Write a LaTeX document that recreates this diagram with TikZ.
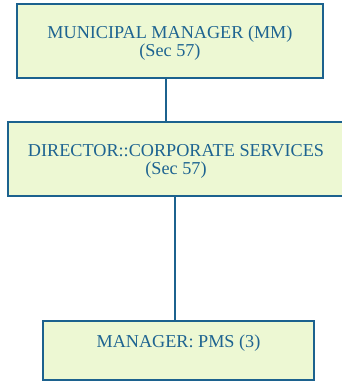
\documentclass[tikz,border=0pt]{standalone}
\usepackage{fontspec}
\setmainfont{Liberation Serif}
\usepackage{xcolor}
\usetikzlibrary{positioning}

\definecolor{boxfill}{RGB}{237,248,211}
\definecolor{boxline}{RGB}{28,98,142}
\definecolor{boxtext}{RGB}{30,100,145}

\tikzset{
  postbox/.style={draw=boxline, line width=1.4pt, fill=boxfill, text=boxtext,
    align=center, inner sep=0pt, text depth=0pt,
    font=\fontsize{18.2}{18}\selectfont},
  postlink/.style={draw=boxline, line width=2pt}
}

\begin{document}
\begin{tikzpicture}[x=1pt,y=1pt]

\useasboundingbox (0,0) rectangle (342,381);

% boxes
{
\node[postbox, minimum width=306pt, minimum height=74pt] (mm) at (170,340)
  {MUNICIPAL MANAGER (MM)\\(Sec 57)};

\node[postbox, minimum width=336pt, minimum height=74pt] (dcs) at (176,222)
  {DIRECTOR::CORPORATE SERVICES\\(Sec 57)};

\node[postbox, minimum width=271pt, minimum height=59pt] (pms) at (178.5,30.5)
  {MANAGER: PMS (3)\\\strut};
}

% lines
{
\coordinate (linkA) at (166,0);
\coordinate (linkB) at (175,0);

\draw[postlink] (mm.south -| linkA) -- (dcs.north -| linkA);
\draw[postlink] (dcs.south -| linkB) -- (pms.north -| linkB);
}

\end{tikzpicture}
\end{document}
